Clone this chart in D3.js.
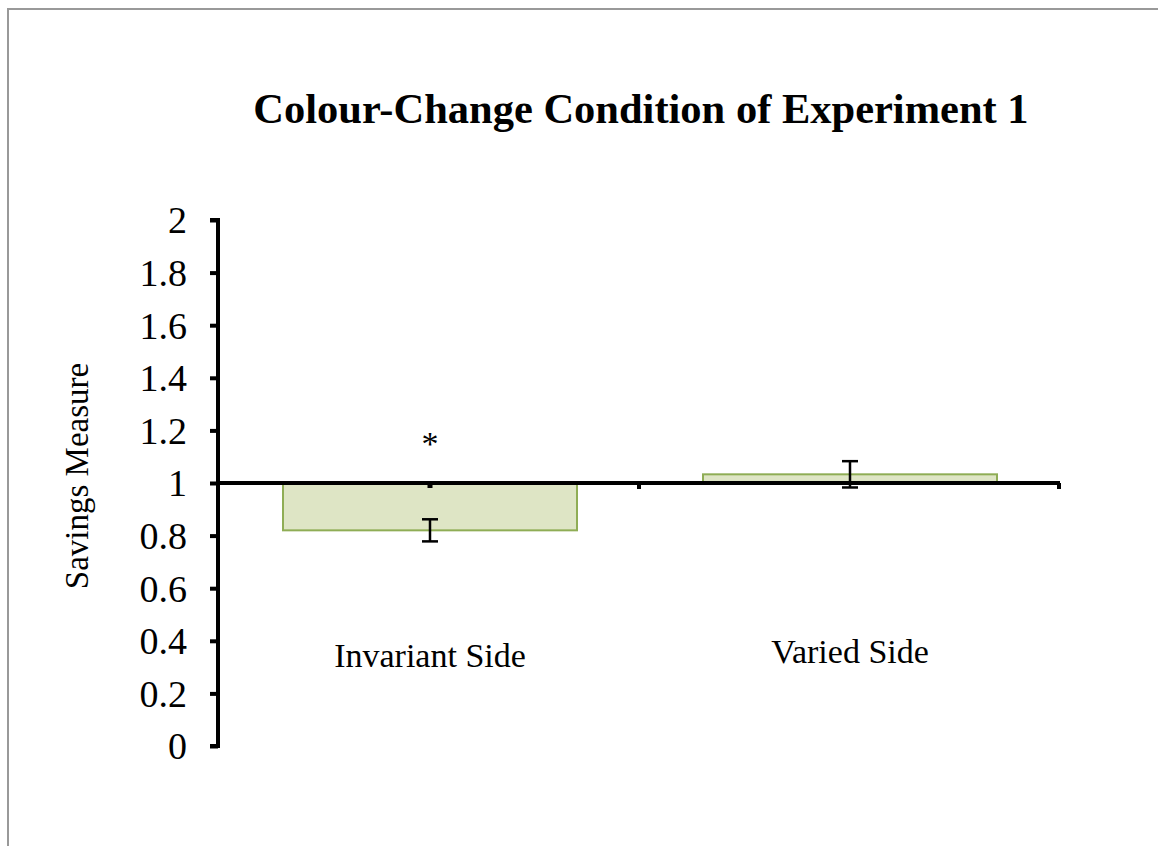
<!DOCTYPE html>
<html><head><meta charset="utf-8">
<script src="https://cdn.jsdelivr.net/npm/d3@7"></script>
<style>body{margin:0;background:#fff}svg{display:block}</style>
</head><body>
<script>
const categories = ["Invariant Side", "Varied Side"];
const values = [0.82, 1.033];
const errors = [0.042, 0.05];
const significance = ["*", ""];
const yTicks = [0, 0.2, 0.4, 0.6, 0.8, 1, 1.2, 1.4, 1.6, 1.8, 2];
const baseline = 1;

const W = 1158, H = 846;
const svg = d3.select("body").append("svg").attr("width", W).attr("height", H);
svg.append("rect").attr("width", W).attr("height", H).attr("fill", "#fff");
// outer frame
svg.append("path").attr("d", `M8,${H} L8,9 L${W},9`).attr("fill", "none")
  .attr("stroke", "#999").attr("stroke-width", 2);

const x0 = 218, x1 = 1058;
const y = d3.scaleLinear().domain([0, 2]).range([746, 220]);
const x = d3.scaleBand().domain(categories).range([x0, x1]).paddingInner(0.3).paddingOuter(0.15);
const serif = "'Liberation Serif','Times New Roman',serif";

svg.append("text").attr("x", 641).attr("y", 123).attr("text-anchor", "middle")
  .attr("font-family", serif).attr("font-weight", "bold").attr("font-size", 42.5)
  .text("Colour-Change Condition of Experiment 1");

// bars
svg.selectAll("rect.bar").data(values).enter().append("rect")
  .attr("x", (d, i) => x(categories[i]) + 2)
  .attr("width", x.bandwidth())
  .attr("y", d => y(Math.max(d, baseline)))
  .attr("height", d => Math.abs(y(d) - y(baseline)))
  .attr("fill", "#dee5c5").attr("stroke", "#8fad55").attr("stroke-width", 2);

// y axis
const yAxis = d3.axisLeft(y).tickValues(yTicks).tickSize(8).tickPadding(23)
  .tickFormat(d => d3.format("")(+d.toFixed(1)));
const ga = svg.append("g").attr("transform", `translate(${x0},0)`).call(yAxis);
ga.select(".domain").attr("stroke", "#000").attr("stroke-width", 4)
  .attr("d", `M-8,${y(2)}H0V${y(0)}H-8`);
ga.selectAll(".tick line").attr("stroke", "#000").attr("stroke-width", 4);
ga.selectAll(".tick text").attr("font-family", serif).attr("font-size", 38).attr("fill", "#000").attr("dy", "0.34em");

// category axis at baseline
const xAxis = svg.append("g");
xAxis.append("line").attr("x1", x0).attr("x2", x1 + 2).attr("y1", y(baseline)).attr("y2", y(baseline))
  .attr("stroke", "#000").attr("stroke-width", 4);
const step = (x1 - x0) / categories.length;
[1, 2].forEach(k => {
  xAxis.append("line").attr("x1", x0 + k * step + 1).attr("x2", x0 + k * step + 1)
    .attr("y1", y(baseline)).attr("y2", y(baseline) + 6).attr("stroke", "#000").attr("stroke-width", 4);
});
xAxis.append("rect").attr("x", x(categories[0]) + x.bandwidth() / 2 - 0.5).attr("y", y(baseline))
  .attr("width", 5).attr("height", 5).attr("fill", "#000");

// error bars
values.forEach((v, i) => {
  const cx = x(categories[i]) + x.bandwidth() / 2 + 2;
  const g = svg.append("g").attr("stroke", "#000").attr("stroke-width", 2.5);
  g.append("line").attr("x1", cx).attr("x2", cx).attr("y1", y(v + errors[i])).attr("y2", y(v - errors[i]));
  [v + errors[i], v - errors[i]].forEach(e => {
    g.append("line").attr("x1", cx - 8).attr("x2", cx + 8).attr("y1", y(e)).attr("y2", y(e));
  });
  if (significance[i]) {
    svg.append("text").attr("x", cx).attr("y", y(1.15) + 11).attr("text-anchor", "middle")
      .attr("font-family", serif).attr("font-size", 34).text(significance[i]);
  }
});

// category labels
const labelY = [667, 663];
categories.forEach((c, i) => {
  svg.append("text").attr("x", x(c) + x.bandwidth() / 2 + 2).attr("y", labelY[i]).attr("text-anchor", "middle")
    .attr("font-family", serif).attr("font-size", 34).text(c);
});

// y title
svg.append("text").attr("transform", `translate(88,476) rotate(-90)`).attr("text-anchor", "middle")
  .attr("font-family", serif).attr("font-size", 33).text("Savings Measure");
</script>
</body></html>
